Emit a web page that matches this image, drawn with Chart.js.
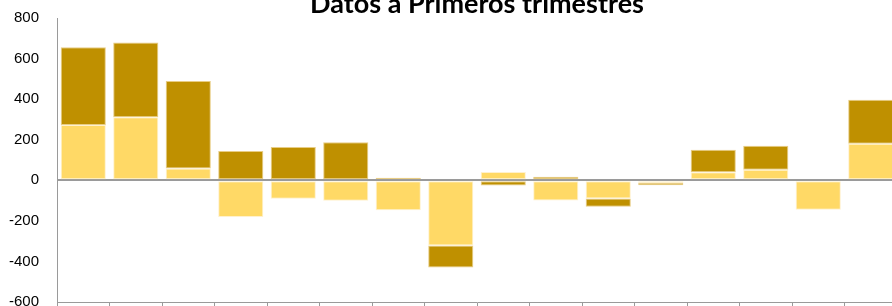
<!DOCTYPE html>
<html>
<head>
<meta charset="utf-8">
<script src="https://cdn.jsdelivr.net/npm/chart.js@4.4.1/dist/chart.umd.min.js"></script>
<style>
  html, body { margin: 0; padding: 0; background: #fff; }
  .wrap { position: relative; width: 892px; height: 306px; overflow: hidden; }
  #chart { position: absolute; left: -9px; top: -10px; }
</style>
</head>
<body>
<div class="wrap">
  <canvas id="chart" width="909" height="339"></canvas>
</div>
<script>
// categories are not readable in the picture (labels cropped off)
const categories = ['1', '2', '3', '4', '5', '6', '7', '8', '9', '10', '11', '12', '13', '14', '15', '16'];
const lightValues = [273, 311, 58, -181, -91, -101, -148, -321, 41, -100, -90, -13, 40, 52, -145, 180];
const darkValues = [383, 368, 432, 144, 164, 188, 13, -109, -26, 17, -41, -12, 110, 118, 0, 217];
const yTicks = [-600, -400, -200, 0, 200, 400, 600, 800];

const lightColor = '#FFD966';
const darkColor = '#BF9000';
const axisGray = '#9a9a9a';

new Chart(document.getElementById('chart'), {
  type: 'bar',
  data: {
    labels: categories,
    datasets: [
      {
        label: 'Serie 1',
        data: lightValues,
        backgroundColor: lightColor,
        borderColor: 'rgba(255,240,200,0.9)',
        borderWidth: 1,
        borderSkipped: false
      },
      {
        label: 'Serie 2',
        data: darkValues,
        backgroundColor: darkColor,
        borderColor: 'rgba(230,200,120,0.9)',
        borderWidth: 1,
        borderSkipped: false
      }
    ]
  },
  options: {
    responsive: false,
    animation: false,
    layout: { padding: { top: 1, left: 0, right: 3, bottom: 0 } },
    datasets: {
      bar: { categoryPercentage: 1, barPercentage: 0.86 }
    },
    plugins: {
      legend: { display: false },
      tooltip: { enabled: false },
      title: {
        display: true,
        fullSize: false,
        text: 'Datos a Primeros trimestres',
        color: '#000',
        font: { family: 'Lato', size: 27, weight: 'bold', lineHeight: 1 },
        padding: { top: 0, bottom: 0 }
      }
    },
    scales: {
      x: {
        stacked: true,
        ticks: { display: false },
        border: { display: true, color: axisGray, width: 1 },
        grid: {
          offset: true,
          drawOnChartArea: false,
          drawTicks: true,
          tickLength: 6,
          color: axisGray
        }
      },
      y: {
        stacked: true,
        min: -600,
        max: 800,
        afterBuildTicks: (axis) => { axis.ticks = yTicks.map(v => ({ value: v })); },
        ticks: {
          color: '#000',
          padding: 18,
          font: { family: 'Liberation Sans', size: 15 }
        },
        border: { display: true, color: axisGray, width: 1 },
        grid: {
          drawTicks: false,
          color: (ctx) => (ctx.tick && ctx.tick.value === 0 ? axisGray : 'rgba(0,0,0,0)'),
          lineWidth: 2
        }
      }
    }
  }
});
</script>
</body>
</html>
